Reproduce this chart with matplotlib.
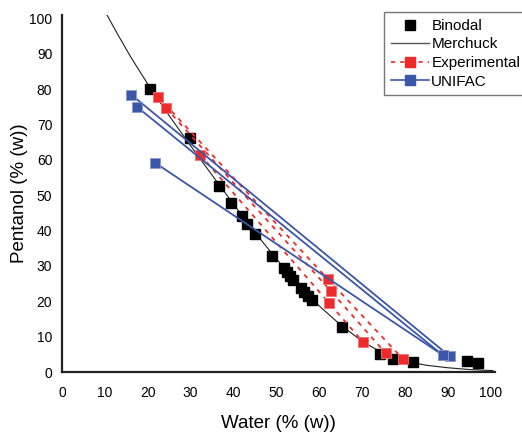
import matplotlib
matplotlib.use("Agg")
import matplotlib.pyplot as plt
from matplotlib.lines import Line2D

plt.rcParams['font.family'] = ['Liberation Sans', 'DejaVu Sans']

# binodal points (water %, pentanol %)
binodal_water = [20.5, 29.8, 36.6, 39.4, 42.0, 43.2, 45.1, 49.1, 51.7, 52.4, 53.1, 53.8,
                 55.7, 56.4, 57.3, 58.3, 65.3, 74.1, 77.2, 81.8, 94.4, 97.0]
binodal_pentanol = [80.2, 66.3, 52.7, 47.9, 44.2, 41.9, 39.1, 32.9, 29.5, 28.3, 27.2, 26.1,
                    23.8, 22.7, 21.5, 20.4, 12.7, 5.1, 3.7, 2.8, 3.1, 2.6]

# Merchuck fit
merchuck_water = [10.5, 13, 16, 20.5, 25, 30, 35, 40, 45, 50, 55, 60, 65, 70, 75, 80, 85, 90, 95, 100.5]
merchuck_pentanol = [101, 95.5, 89.2, 80.5, 72.5, 64.0, 55.7, 47.5, 39.5, 32.0, 25.0, 18.7,
                     13.3, 8.7, 5.2, 3.1, 1.9, 1.2, 0.7, 0.4]

# experimental tie lines: upper phase, feed, lower phase
exp_water = [[22.4, 62.0, 79.5], [24.2, 62.7, 75.5], [32.2, 62.3, 70.2]]
exp_pentanol = [[77.9, 26.3, 3.7], [74.8, 22.9, 5.3], [61.5, 19.5, 8.5]]

# UNIFAC tie lines
unifac_water = [[16.1, 90.4], [17.5, 88.8], [21.7, 88.8]]
unifac_pentanol = [[78.5, 4.5], [75.0, 4.8], [59.2, 4.8]]

x_ticks = [0, 10, 20, 30, 40, 50, 60, 70, 80, 90, 100]
y_ticks = [0, 10, 20, 30, 40, 50, 60, 70, 80, 90, 100]

RED = '#ee2a2a'
BLUE = '#3c56a8'

fig = plt.figure(figsize=(5.22, 4.36), dpi=100)
ax = fig.add_axes([62 / 522, 64 / 436, 433 / 522, 357 / 436])

ax.plot(merchuck_water, merchuck_pentanol, color='#222222', lw=0.8, zorder=1)
ax.plot(binodal_water, binodal_pentanol, 's', color='black', ms=7, zorder=2)
for xs, ys in zip(exp_water, exp_pentanol):
    ax.plot(xs, ys, color=RED, lw=1.3, ls=(0, (2.5, 3)), marker='s', ms=7.5,
            mfc=RED, mec='#f27070', mew=0.6, zorder=3)
for xs, ys in zip(unifac_water, unifac_pentanol):
    ax.plot(xs, ys, color=BLUE, lw=1.3, marker='s', ms=7, mfc=BLUE,
            mec='#8a9ad0', mew=0.6, zorder=4)

ax.set_xlim(0, 101)
ax.set_ylim(0, 101)
ax.set_xticks(x_ticks)
ax.set_yticks(y_ticks)
ax.tick_params(length=0, labelsize=10)
ax.tick_params(axis='x', pad=10)
ax.tick_params(axis='y', pad=7)
for s in ['top', 'right']:
    ax.spines[s].set_visible(False)
for s in ['left', 'bottom']:
    ax.spines[s].set_linewidth(1.6)
    ax.spines[s].set_color('#222222')

ax.set_xlabel('Water (% (w))', fontsize=13.5, labelpad=11)
ax.set_ylabel('Pentanol (% (w))', fontsize=13.5, labelpad=1)

handles = [
    Line2D([], [], ls='none', marker='s', color='black', ms=7),
    Line2D([], [], color='#555555', lw=1),
    Line2D([], [], color=RED, lw=1.2, ls=(0, (2.5, 3)), marker='s', ms=7, mfc=RED, mec=RED),
    Line2D([], [], color=BLUE, lw=1.2, marker='s', ms=7, mfc=BLUE, mec=BLUE),
]
labels = ['Binodal', 'Merchuck', 'Experimental', 'UNIFAC']
leg = fig.legend(handles, labels, loc='upper left', bbox_to_anchor=(384 / 522, 1 - 12 / 436),
                 borderaxespad=0, fontsize=11, frameon=True, fancybox=False, edgecolor='#555555',
                 handlelength=2.5, handletextpad=0.15, labelspacing=0.3, borderpad=0.45)
leg.get_frame().set_linewidth(1.0)

fig.savefig('out.png', dpi=100)
